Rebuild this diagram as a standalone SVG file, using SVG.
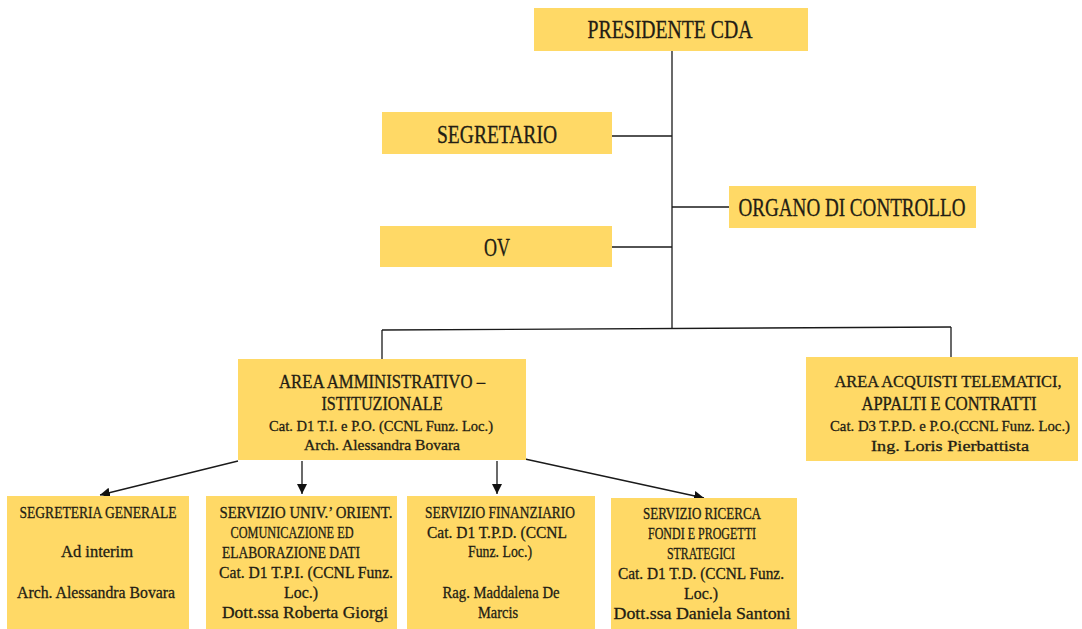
<svg xmlns="http://www.w3.org/2000/svg" width="1082" height="629" viewBox="0 0 1082 629">
<defs>
<marker id="arr" viewBox="0 0 10 10" refX="10" refY="5" markerWidth="10" markerHeight="10" markerUnits="userSpaceOnUse" orient="auto">
<path d="M0,0 L10,5 L0,10 Z" fill="#111"/>
</marker>
<style>
.box{fill:#FFD966;}
.t{font-family:"Liberation Serif","DejaVu Serif",serif;fill:#231d14;stroke:#231d14;stroke-width:0.3;text-anchor:middle;}
.big{font-size:25px;}
.mid{font-size:18px;}
.mid2{font-size:16.5px;}
.sm{font-size:15px;}
.bs{font-size:16.5px;}
.ln{stroke:#1a1a1a;stroke-width:1.3;fill:none;}
</style>
</defs>
<rect width="1082" height="629" fill="#fff"/>
<g id="connectors">
<line class="ln" x1="672" y1="51" x2="672" y2="329"/>
<line class="ln" x1="612" y1="136" x2="672" y2="136"/>
<line class="ln" x1="672" y1="207" x2="729" y2="207"/>
<line class="ln" x1="612" y1="247" x2="672" y2="247"/>
<line class="ln" x1="382" y1="330" x2="951" y2="327"/>
<line class="ln" x1="382" y1="330" x2="382" y2="360"/>
<line class="ln" x1="951" y1="327" x2="951" y2="358"/>
<line class="ln" x1="238" y1="461" x2="100" y2="495" marker-end="url(#arr)"/>
<line class="ln" x1="302" y1="461" x2="302" y2="494" marker-end="url(#arr)"/>
<line class="ln" x1="497" y1="461" x2="497" y2="494" marker-end="url(#arr)"/>
<line class="ln" x1="525" y1="459" x2="704" y2="498" marker-end="url(#arr)"/>
</g>
<g id="presidente">
<rect class="box" x="534" y="8" width="274" height="43"/>
<text class="t big" x="670" y="38" textLength="165" lengthAdjust="spacingAndGlyphs">PRESIDENTE CDA</text>
</g>
<g id="segretario">
<rect class="box" x="382" y="112" width="230" height="42"/>
<text class="t big" x="497" y="143" textLength="120" lengthAdjust="spacingAndGlyphs">SEGRETARIO</text>
</g>
<g id="organo">
<rect class="box" x="729" y="186" width="247" height="42"/>
<text class="t big" x="852" y="216" textLength="227" lengthAdjust="spacingAndGlyphs">ORGANO DI CONTROLLO</text>
</g>
<g id="ov">
<rect class="box" x="380" y="226" width="232" height="41"/>
<text class="t big" x="497" y="256" textLength="26" lengthAdjust="spacingAndGlyphs">OV</text>
</g>
<g id="area-amm">
<rect class="box" x="238" y="359" width="288" height="101"/>
<text class="t mid" x="382" y="388" textLength="206" lengthAdjust="spacingAndGlyphs">AREA AMMINISTRATIVO –</text>
<text class="t mid" x="382" y="410" textLength="121" lengthAdjust="spacingAndGlyphs">ISTITUZIONALE</text>
<text class="t sm" x="381" y="431" textLength="224" lengthAdjust="spacingAndGlyphs">Cat. D1 T.I. e P.O. (CCNL Funz. Loc.)</text>
<text class="t sm" x="382" y="450" textLength="156" lengthAdjust="spacingAndGlyphs">Arch. Alessandra  Bovara</text>
</g>
<g id="area-acq">
<rect class="box" x="806" y="357" width="272" height="104"/>
<text class="t mid2" x="948" y="387" textLength="227" lengthAdjust="spacingAndGlyphs">AREA ACQUISTI TELEMATICI,</text>
<text class="t mid" x="949" y="410" textLength="175" lengthAdjust="spacingAndGlyphs">APPALTI E CONTRATTI</text>
<text class="t sm" x="950" y="431" textLength="240" lengthAdjust="spacingAndGlyphs">Cat. D3 T.P.D. e P.O.(CCNL Funz. Loc.)</text>
<text class="t sm" x="950" y="451" textLength="158" lengthAdjust="spacingAndGlyphs">Ing. Loris Pierbattista</text>
</g>
<g id="segreteria">
<rect class="box" x="7" y="496" width="182" height="140"/>
<text class="t bs" x="98" y="518" textLength="157" lengthAdjust="spacingAndGlyphs">SEGRETERIA  GENERALE</text>
<text class="t bs" x="97" y="557" textLength="72" lengthAdjust="spacingAndGlyphs">Ad interim</text>
<text class="t bs" x="96" y="598" textLength="158" lengthAdjust="spacingAndGlyphs">Arch. Alessandra  Bovara</text>
</g>
<g id="serv-univ">
<rect class="box" x="206" y="496" width="191" height="140"/>
<text class="t bs" x="306" y="518" textLength="173" lengthAdjust="spacingAndGlyphs">SERVIZIO  UNIV.’ ORIENT.</text>
<text class="t bs" x="292" y="538" textLength="123" lengthAdjust="spacingAndGlyphs">COMUNICAZIONE ED</text>
<text class="t bs" x="291" y="558" textLength="138" lengthAdjust="spacingAndGlyphs">ELABORAZIONE  DATI</text>
<text class="t bs" x="306" y="578" textLength="174" lengthAdjust="spacingAndGlyphs">Cat. D1 T.P.I. (CCNL Funz.</text>
<text class="t bs" x="301" y="598" textLength="34" lengthAdjust="spacingAndGlyphs">Loc.)</text>
<text class="t bs" x="305" y="618" textLength="166" lengthAdjust="spacingAndGlyphs">Dott.ssa Roberta  Giorgi</text>
</g>
<g id="serv-fin">
<rect class="box" x="407" y="496" width="188" height="140"/>
<text class="t bs" x="500" y="518" textLength="150" lengthAdjust="spacingAndGlyphs">SERVIZIO  FINANZIARIO</text>
<text class="t bs" x="497" y="538" textLength="140" lengthAdjust="spacingAndGlyphs">Cat. D1 T.P.D. (CCNL</text>
<text class="t bs" x="500" y="557" textLength="64" lengthAdjust="spacingAndGlyphs">Funz. Loc.)</text>
<text class="t bs" x="501" y="598" textLength="117" lengthAdjust="spacingAndGlyphs">Rag. Maddalena  De</text>
<text class="t bs" x="498" y="618" textLength="40" lengthAdjust="spacingAndGlyphs">Marcis</text>
</g>
<g id="serv-ric">
<rect class="box" x="611" y="498" width="186" height="138"/>
<text class="t bs" x="702" y="519" textLength="118" lengthAdjust="spacingAndGlyphs">SERVIZIO  RICERCA</text>
<text class="t bs" x="702" y="539" textLength="108" lengthAdjust="spacingAndGlyphs">FONDI E PROGETTI</text>
<text class="t bs" x="701" y="559" textLength="68" lengthAdjust="spacingAndGlyphs">STRATEGICI</text>
<text class="t bs" x="701" y="579" textLength="166" lengthAdjust="spacingAndGlyphs">Cat. D1 T.D. (CCNL  Funz.</text>
<text class="t bs" x="701" y="599" textLength="34" lengthAdjust="spacingAndGlyphs">Loc.)</text>
<text class="t bs" x="702" y="619" textLength="177" lengthAdjust="spacingAndGlyphs">Dott.ssa Daniela Santoni</text>
</g>
</svg>
